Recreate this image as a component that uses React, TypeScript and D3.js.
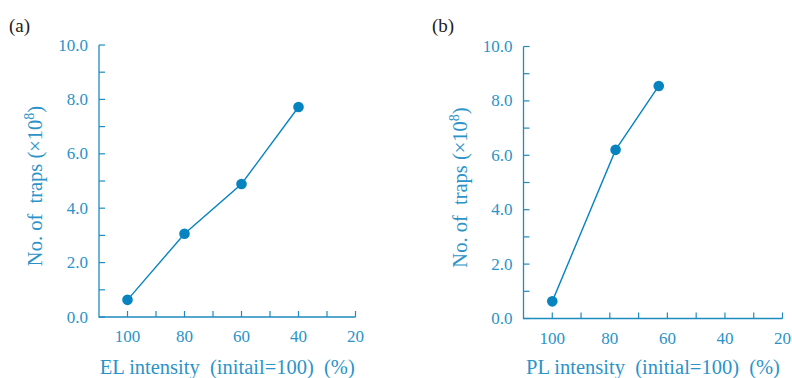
import * as d3 from 'd3';

// panel (a): EL intensity vs traps
const elIntensity = [100, 80, 60, 40];
const elTraps = [0.63, 3.06, 4.89, 7.72];

// panel (b): PL intensity vs traps
const plIntensity = [100, 78, 63];
const plTraps = [0.63, 6.2, 8.55];

const xTicks = [100, 90, 80, 70, 60, 50, 40, 30, 20];
const xLabels = [100, 80, 60, 40, 20];
const yTicks = [0, 1, 2, 3, 4, 5, 6, 7, 8, 9, 10];
const yLabels = [0, 2, 4, 6, 8, 10];

const axisColor = '#1f8bc0';
const textColor = '#2b93c8';
const dotColor = '#0784bf';
const font = '"Liberation Serif", "Times New Roman", serif';

type PanelProps = {
  left: number;
  top: number;
  bottom: number;
  right: number;
  xs: number[];
  ys: number[];
  tag: string;
  xTitle: string;
  tagX: number;
};

const Panel = ({ left, top, bottom, right, xs, ys, tag, xTitle, tagX }: PanelProps) => {
  const x = d3.scaleLinear().domain([110, 20]).range([left, right]);
  const y = d3.scaleLinear().domain([0, 10]).range([bottom, top]);
  const pts = xs.map((v, i) => [x(v), y(ys[i])] as [number, number]);
  const line = d3.line()(pts) || '';
  const tick = 6;

  return (
    <g>
      <text x={tagX} y={32} fontFamily={font} fontSize={19} fill="#222">
        {tag}
      </text>
      {/* axes */}
      <path
        d={`M${left},${top}V${bottom}H${right}`}
        fill="none"
        stroke={axisColor}
        strokeWidth={1.3}
      />
      {yTicks.map((t) => (
        <line key={'y' + t} x1={left} x2={left + tick} y1={y(t)} y2={y(t)} stroke={axisColor} strokeWidth={1.2} />
      ))}
      {yLabels.map((t) => (
        <text
          key={'yl' + t}
          x={left - 11}
          y={y(t) + 5.5}
          textAnchor="end"
          fontFamily={font}
          fontSize={17}
          fill={textColor}
        >
          {t.toFixed(1)}
        </text>
      ))}
      {xTicks.map((t) => (
        <line key={'x' + t} x1={x(t)} x2={x(t)} y1={bottom} y2={bottom - tick} stroke={axisColor} strokeWidth={1.2} />
      ))}
      {xLabels.map((t) => (
        <text
          key={'xl' + t}
          x={x(t)}
          y={bottom + 25}
          textAnchor="middle"
          fontFamily={font}
          fontSize={17}
          fill={textColor}
        >
          {t}
        </text>
      ))}
      <text
        x={(left + right) / 2}
        y={374}
        textAnchor="middle"
        fontFamily={font}
        fontSize={20.5}
        fill={textColor}
        style={{ whiteSpace: 'pre' }}
      >
        {xTitle}
      </text>
      <text
        transform={`translate(${left - 57},${(top + bottom) / 2 + 5}) rotate(-90)`}
        textAnchor="middle"
        fontFamily={font}
        fontSize={20.5}
        fill={textColor}
        style={{ whiteSpace: 'pre' }}
      >
        {'No. of  traps (×10'}<tspan dy={-8} fontSize={14}>8</tspan><tspan dy={8}>)</tspan>
      </text>
      {/* data */}
      <path d={line} fill="none" stroke={dotColor} strokeWidth={1.4} />
      {pts.map((p, i) => (
        <circle key={i} cx={p[0]} cy={p[1]} r={5.3} fill={dotColor} />
      ))}
    </g>
  );
};

export default function App() {
  return (
    <svg width={792} height={378} style={{ position: 'absolute', left: 0, top: 0, background: '#fff' }}>
      <Panel
        left={99}
        right={355.5}
        top={45}
        bottom={317}
        xs={elIntensity}
        ys={elTraps}
        tag="(a)"
        tagX={9}
        xTitle="EL intensity  (initail=100)  (%)"
      />
      <Panel
        left={523.5}
        right={782.5}
        top={46.5}
        bottom={318.5}
        xs={plIntensity}
        ys={plTraps}
        tag="(b)"
        tagX={432}
        xTitle="PL intensity  (initial=100)  (%)"
      />
    </svg>
  );
}
